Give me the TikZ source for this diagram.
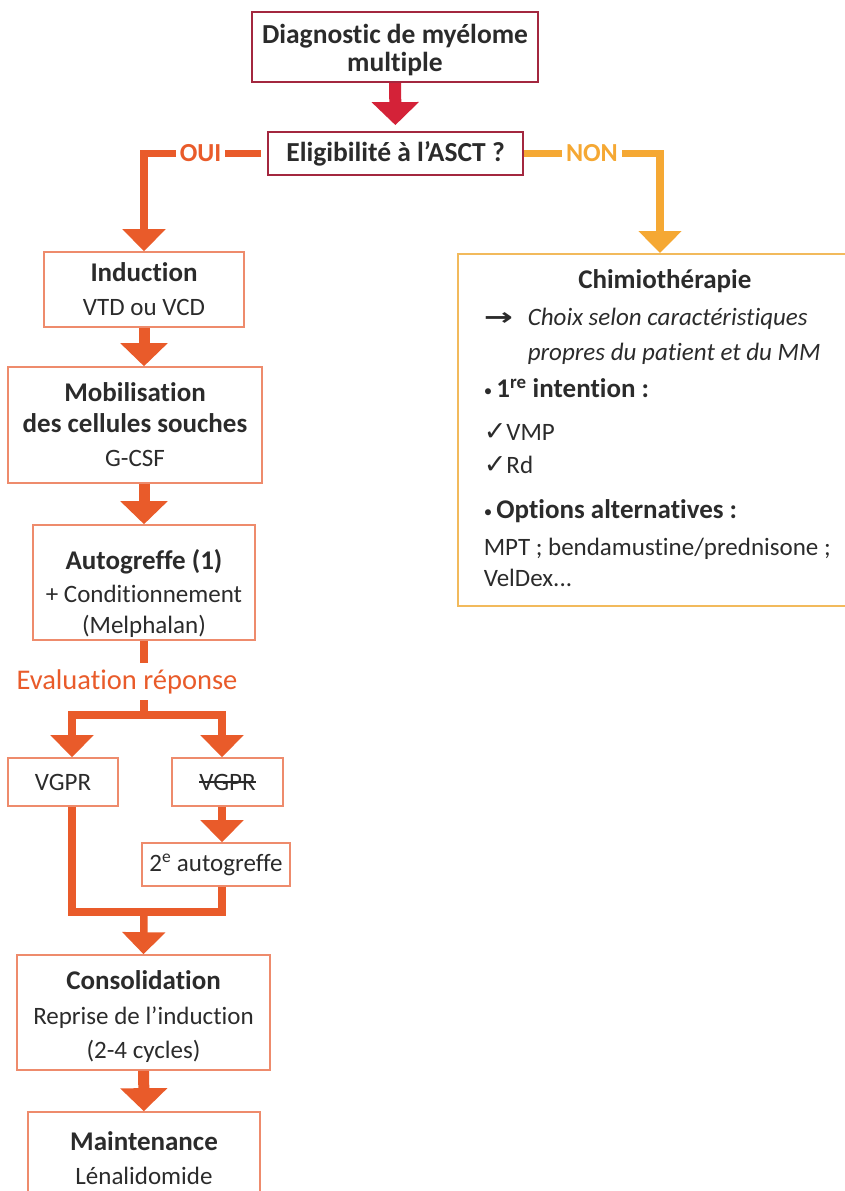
\documentclass[tikz,border=0pt]{standalone}
\usepackage{fontspec}
\setmainfont{Carlito}[Ligatures=NoCommon]
\newfontfamily\symbolfont{DejaVu Sans}
\usetikzlibrary{positioning, arrows.meta}
\definecolor{diagred}{HTML}{A3273F}
\definecolor{arrowred}{HTML}{D42238}
\definecolor{flowor}{HTML}{E95B2A}
\definecolor{boxor}{HTML}{EE8B6C}
\definecolor{nonor}{HTML}{F5A833}
\definecolor{chimioor}{HTML}{F2BA5C}
\definecolor{ink}{HTML}{2B2B2B}
\newlength\Chimiowd
\setlength\Chimiowd{362pt}
\newcommand\Chimiobox[2]{%
  \parbox[c][#1][t]{\Chimiowd}{\raggedright#2}}
\newsavebox\Barrebox
\newcommand\Barre[1]{%
  \sbox\Barrebox{#1}\rlap{\rule[0.3em]{\wd\Barrebox}{1.2pt}}\usebox\Barrebox}
\newcommand\Titre[1]{{\fontsize{27}{34}\selectfont\bfseries #1}}
\newcommand\Puce{{\fontsize{17}{17}\selectfont\raisebox{1pt}{•}}\,}
\newcommand\Coche{{\symbolfont\bfseries\fontsize{27}{27}\selectfont ✓}}

\begin{document}
\begin{tikzpicture}[x=1pt, y=-1pt,
every node/.style={font=\fontsize{25}{34}\selectfont, text=ink},
stage/.style={draw=boxor, line width=1.6pt, align=center, inner sep=0pt},
topbox/.style={draw=diagred, line width=1.8pt, align=center, inner sep=0pt,
  font=\fontsize{27.5}{34}\selectfont\bfseries},
choice/.style={fill=white, inner xsep=4pt, font=\fontsize{26}{28}\selectfont\bfseries},
thickflow/.style={line width=11pt, draw=flowor, -{Triangle[width=46pt,length=23pt]}},
thinflow/.style={line width=7.5pt, draw=flowor, -{Triangle[width=42pt,length=22pt]}},
link/.style={line width=7.5pt, draw=flowor}
]
\useasboundingbox (0,0) rectangle (845,1191);

% top of the tree
\node (diag) [topbox, minimum width=286pt, minimum height=70pt] at (395,47)
  {\rule{0pt}{25pt}Diagnostic de myélome\\[-6pt]multiple};
\node (elig) [topbox, minimum width=255pt, minimum height=43pt] at (395.5,153.5)
  {Eligibilité à l’ASCT ?};

% OUI column
\node (induction) [stage, minimum width=200pt, minimum height=75pt] at (144,289.5)
  {\Titre{Induction}\\VTD ou VCD};
\node (mobil) [stage, minimum width=254pt, minimum height=116pt] at (135,425)
  {\Titre{Mobilisation}\\[-3pt]\Titre{des cellules souches}\\G-CSF};
\node (autog) [stage, minimum width=222pt, minimum height=115pt] at (144,582.5)
  {\rule{0pt}{42pt}\Titre{Autogreffe (1)}\\[-1pt]+ Conditionnement\\[-3pt](Melphalan)};
\node (vgpr) [stage, minimum width=110pt, minimum height=48pt] at (63,782) {VGPR};
\node (novgpr) [stage, minimum width=111pt, minimum height=48pt] at (227.5,782) {\Barre{VGPR}};
\node (autog2) [stage, minimum width=148pt, minimum height=43pt] at (216,864.5)
  {2\textsuperscript{e} autogreffe};
\node (consol) [stage, minimum width=253pt, minimum height=115pt] at (143.5,1012.5)
  {\rule{0pt}{27pt}\Titre{Consolidation}\\Reprise de l’induction\\(2-4 cycles)};
\node (maint) [stage, minimum width=232pt, minimum height=92pt] at (144,1158)
  {\Titre{Maintenance}\\Lénalidomide};

% NON column
\node (chimio) [draw=chimioor, line width=1.6pt, inner xsep=26pt, inner ysep=11pt,
  anchor=north west] at (457,253) {\Chimiobox{330pt}{%
  \vspace*{5pt}
  {\centering\Titre{Chimiothérapie}\par}\vspace{3pt}
  \makebox[44pt][l]{\scalebox{1.45}[1]{\symbolfont\bfseries\fontsize{24}{24}\selectfont →}}\textit{Choix selon caractéristiques}\\[1pt]
  \hspace*{44pt}\textit{propres du patient et du MM}\\[3pt]
  \Puce\Titre{1\textsuperscript{re} intention :}\\[9pt]
  \Coche VMP\\[-1pt]
  \Coche Rd\\[11pt]
  \Puce\Titre{Options alternatives :}\\[3pt]
  MPT ; bendamustine/prednisone ;\\[-3pt]
  VelDex...}};

\coordinate (nonend) at (660,253);
\coordinate (split) at (144,715);
\coordinate (merge) at (144,912);
\coordinate (lcol) at (72,0);
\coordinate (rcol) at (222,0);

% connectors
\draw[line width=12pt, draw=arrowred, -{Triangle[width=46pt,length=23pt]}, shorten >=6pt] (diag) -- (elig);
\draw[thinflow, shorten <=6pt] (elig.west) -| node[choice, pos=0.27, text=flowor] {OUI} (induction.north);
\draw[thinflow, draw=nonor] (elig.east) -| node[choice, pos=0.25, text=nonor] {NON} (nonend);
\draw[thickflow] (induction.south) -- (induction.south |- mobil.north);
\draw[thickflow] (autog.north |- mobil.south) -- (autog.north);
\draw[link] (autog.south) -- node[pos=0.55, fill=white, inner ysep=6pt, xshift=-17pt, text=flowor, font=\fontsize{28.5}{30}\selectfont] (eval) {Evaluation réponse} (split);
\draw[thinflow] (split) -| (lcol |- vgpr.north);
\draw[thinflow] (split) -| (rcol |- novgpr.north);
\draw[thinflow] (rcol |- novgpr.south) -- (rcol |- autog2.north);
\draw[link] (lcol |- vgpr.south) |- (merge);
\draw[link] (rcol |- autog2.south) |- (merge);
\draw[thinflow] (merge) -- (consol.north);
\draw[thickflow] (consol) -- (maint);
\end{tikzpicture}
\end{document}
